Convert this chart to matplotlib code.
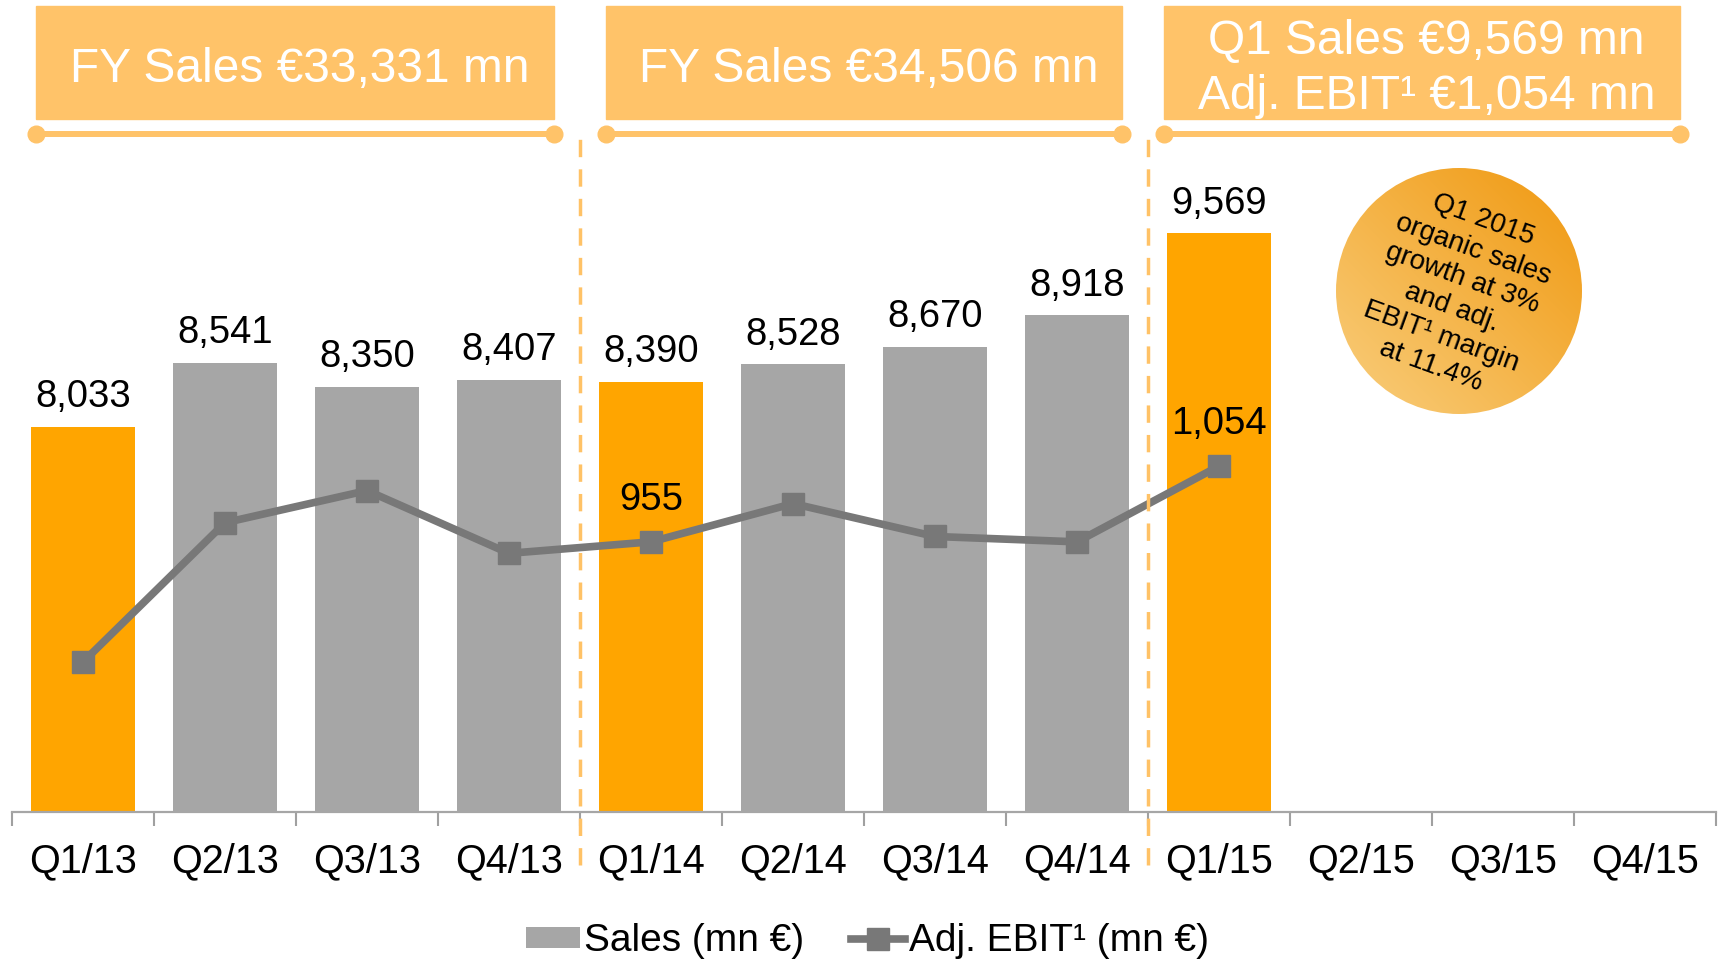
import numpy as np
import matplotlib
matplotlib.use("Agg")
import matplotlib.pyplot as plt
from matplotlib.patches import Rectangle, Circle, Patch
from matplotlib.lines import Line2D

plt.rcParams["font.family"] = ["Liberation Sans", "DejaVu Sans"]

# ---------------------------------------------------------------------------
# Data
# ---------------------------------------------------------------------------
quarters = ["Q1/13", "Q2/13", "Q3/13", "Q4/13",
            "Q1/14", "Q2/14", "Q3/14", "Q4/14",
            "Q1/15", "Q2/15", "Q3/15", "Q4/15"]
sales = [8033, 8541, 8350, 8407, 8390, 8528, 8670, 8918, 9569]
adj_ebit = [798, 980, 1022, 940, 955, 1005, 962, 955, 1054]
ebit_labelled = {4: "955", 8: "1,054"}

banner_text = ["FY Sales €33,331 mn",
               "FY Sales €34,506 mn",
               "Q1 Sales €9,569 mn\nAdj. EBIT¹ €1,054 mn"]
year_breaks = [3.5, 7.5]

circle_text = "Q1 2015\norganic sales\ngrowth at 3%\nand adj.\nEBIT¹ margin\nat 11.4%"

# ---------------------------------------------------------------------------
# Styling
# ---------------------------------------------------------------------------
ORANGE = "#FFA500"
GREY_BAR = "#A6A6A6"
LINE_GREY = "#787878"
BANNER = "#FFC369"
DASH = "#FFC266"

W, H = 1721, 960
BASE_PX = 812          # pixel row of the category axis


def frac(py):
    """pixel row (from top) -> axes fraction of the main axes"""
    return (BASE_PX - py) / BASE_PX


fig = plt.figure(figsize=(W / 100, H / 100), dpi=100)
ax = fig.add_axes([12 / W, (H - BASE_PX) / H, 1704 / W, BASE_PX / H])
ax2 = ax.twinx()

x = np.arange(len(sales))
colors = [ORANGE if q.startswith("Q1") else GREY_BAR for q in quarters[:len(sales)]]
ax.bar(x, sales, width=0.73, color=colors, zorder=2)

for xi, v in zip(x, sales):
    ax.annotate(f"{v:,}", (xi, v), xytext=(0, 14), textcoords="offset points",
                ha="center", va="baseline", fontsize=27.5)

ax.set_xlim(-0.5, len(quarters) - 0.5)
ax.set_ylim(4970, 11425)
ax2.set_ylim(602, 1663)

# category axis
ax.set_xticks(range(len(quarters)))
ax.set_xticklabels(quarters, fontsize=28.5)
ax.set_xticks(np.arange(-0.5, len(quarters)), minor=True)
ax.tick_params(axis="x", which="major", length=0, pad=22)
ax.tick_params(axis="x", which="minor", length=10, width=1.5, color="#A0A0A0")
ax.set_yticks([])
for s in ("left", "right", "top"):
    ax.spines[s].set_visible(False)
ax.spines["bottom"].set_color("#A6A6A6")
ax.spines["bottom"].set_linewidth(1.6)

# EBIT line
ax2.plot(x, adj_ebit, color=LINE_GREY, lw=5.5, marker="s", ms=16,
         mec=LINE_GREY, zorder=3)
for i, lab in ebit_labelled.items():
    ax2.annotate(lab, (x[i], adj_ebit[i]), xytext=(0, 23), textcoords="offset points",
                 ha="center", va="baseline", fontsize=27.5)
ax2.set_yticks([])
for s in ax2.spines.values():
    s.set_visible(False)

# year separators
for xb in year_breaks:
    ax2.axvline(xb, ymin=-0.065, ymax=frac(134), color=DASH, lw=2.5,
                ls=(0, (5, 3.5)), clip_on=False, zorder=4)

# banners
trans = ax.get_xaxis_transform()
spans = [(-0.33, 3.32), (3.68, 7.32), (7.61, 11.25)]
for (x0, x1), txt in zip(spans, banner_text):
    ax2.add_patch(Rectangle((x0, frac(118.5)), x1 - x0, frac(5.5) - frac(118.5),
                            transform=trans, color=BANNER, clip_on=False, zorder=1))
    ax2.text((x0 + x1) / 2 + 0.03, frac(69), txt, transform=trans, ha="center",
             va="center", fontsize=34.5, color="white", linespacing=1.3, zorder=2)
    ax2.plot([x0, x1], [frac(134)] * 2, transform=trans, color=BANNER, lw=4.3,
             marker="o", ms=12, clip_on=False, zorder=2)

# highlight bubble with gradient
deco = fig.add_axes([0, 0, 1, 1])
deco.set_xlim(0, W)
deco.set_ylim(H, 0)
deco.axis("off")
cx, cy, r = 1459, 291, 123
gx, gy = np.meshgrid(np.linspace(0, 1, 200), np.linspace(0, 1, 200))
t = np.clip((gx + (1 - gy)) / 2, 0, 1)   # 1 at top-right
light = np.array([249, 206, 125]) / 255
dark = np.array([240, 152, 15]) / 255
img = light + (dark - light) * t[..., None]
im = deco.imshow(img, extent=(cx - r, cx + r, cy + r, cy - r), origin="upper",
                 interpolation="bilinear", zorder=5)
clip = Circle((cx, cy), r, transform=deco.transData, fc="none", ec="none")
deco.add_patch(clip)
im.set_clip_path(clip)
deco.text(cx - 2, cy + 2, circle_text, ha="center", va="center", rotation=-20,
          rotation_mode="anchor", fontsize=20, linespacing=1.25, zorder=6)

# legend
handles = [Patch(facecolor=GREY_BAR, edgecolor="none"),
           Line2D([], [], color=LINE_GREY, lw=5.5, marker="s", ms=16)]
fig.legend(handles, ["Sales (mn €)", "Adj. EBIT¹ (mn €)"], loc="center",
           bbox_to_anchor=(0.504, (H - 941) / H), ncol=2, frameon=False,
           fontsize=28, handlelength=1.4, handleheight=0.45, handletextpad=0.1,
           columnspacing=1.2)

fig.savefig("out.png", dpi=100)
